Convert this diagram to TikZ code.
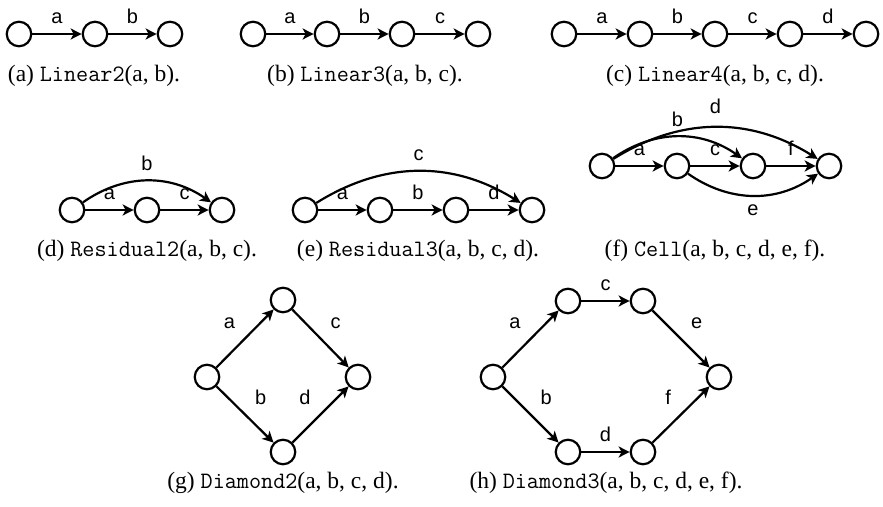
\documentclass[tikz,border=0pt]{standalone}
\usepackage{fontspec}
\setmainfont{Liberation Serif}
\newfontfamily\edgefont{Liberation Sans}
\usetikzlibrary{arrows.meta}

\begin{document}
\begin{tikzpicture}[x=1pt,y=1pt,
  vtx/.style={draw,circle,line width=2.2pt,minimum size=24.5pt,inner sep=0pt},
  arr/.style={line width=2.2pt,-{Stealth[length=11pt,width=11pt,inset=3pt]}},
  lbl/.style={font=\edgefont\fontsize{20}{20}\selectfont,inner sep=0pt},
  captext/.style={font=\fontsize{23.5}{26}\selectfont,anchor=base,inner sep=0pt}]

\useasboundingbox (0,0) rectangle (883,506);

\node[vtx] (a1) at (19,472) {};
\node[vtx] (a2) at (95,472) {};
\node[vtx] (a3) at (170,472) {};
\draw[arr] (a1) -- (a2) node[lbl,above=9pt,midway] {a};
\draw[arr] (a2) -- (a3) node[lbl,above=9pt,midway] {b};
\node[captext] (capa) at (94,424) {(a) \texttt{Linear2}(a, b).};

\node[vtx] (b1) at (253,472) {};
\node[vtx] (b2) at (327,472) {};
\node[vtx] (b3) at (402,472) {};
\node[vtx] (b4) at (478,472) {};
\draw[arr] (b1) -- (b2) node[lbl,above=9pt,midway] {a};
\draw[arr] (b2) -- (b3) node[lbl,above=9pt,midway] {b};
\draw[arr] (b3) -- (b4) node[lbl,above=9pt,midway] {c};
\node[captext] (capb) at (365,424) {(b) \texttt{Linear3}(a, b, c).};

\node[vtx] (c1) at (564,472) {};
\node[vtx] (c2) at (640,472) {};
\node[vtx] (c3) at (715,472) {};
\node[vtx] (c4) at (790,472) {};
\node[vtx] (c5) at (866,472) {};
\draw[arr] (c1) -- (c2) node[lbl,above=9pt,midway] {a};
\draw[arr] (c2) -- (c3) node[lbl,above=9pt,midway] {b};
\draw[arr] (c3) -- (c4) node[lbl,above=9pt,midway] {c};
\draw[arr] (c4) -- (c5) node[lbl,above=9pt,midway] {d};
\node[captext] (capc) at (715,424) {(c) \texttt{Linear4}(a, b, c, d).};

\node[vtx] (d1) at (72,296) {};
\node[vtx] (d2) at (147,296) {};
\node[vtx] (d3) at (222,296) {};
\draw[arr] (d1) -- (d2) node[lbl,above=9pt,midway] {a};
\draw[arr] (d1) to[bend left=35] node[lbl,above=9pt,midway] {b} (d3);
\draw[arr] (d2) -- (d3) node[lbl,above=9pt,midway] {c};
\node[captext] (capd) at (147,249) {(d) \texttt{Residual2}(a, b, c).};

\node[vtx] (e1) at (305,296) {};
\node[vtx] (e2) at (380,296) {};
\node[vtx] (e3) at (456,296) {};
\node[vtx] (e4) at (532,296) {};
\draw[arr] (e1) -- (e2) node[lbl,above=9pt,midway] {a};
\draw[arr] (e2) -- (e3) node[lbl,above=9pt,midway] {b};
\draw[arr] (e1) to[bend left=32] node[lbl,above=9pt,midway] {c} (e4);
\draw[arr] (e3) -- (e4) node[lbl,above=9pt,midway] {d};
\node[captext] (cape) at (418,249) {(e) \texttt{Residual3}(a, b, c, d).};

\node[vtx] (f1) at (602,340) {};
\node[vtx] (f2) at (677,340) {};
\node[vtx] (f3) at (753,340) {};
\node[vtx] (f4) at (829,340) {};
\draw[arr] (f1) -- (f2) node[lbl,above=9pt,midway] {a};
\draw[arr] (f1) to[bend left=35] node[lbl,above=9pt,midway] {b} (f3);
\draw[arr] (f2) -- (f3) node[lbl,above=9pt,midway] {c};
\draw[arr] (f1) to[bend left=32] node[lbl,above=12pt,midway] {d} (f4);
\draw[arr] (f2) to[bend right=35] node[lbl,below=8pt,midway] {e} (f4);
\draw[arr] (f3) -- (f4) node[lbl,above=9pt,midway] {f};
\node[captext] (capf) at (715,249) {(f) \texttt{Cell}(a, b, c, d, e, f).};

\node[vtx] (g1) at (207,129) {};
\node[vtx] (g2) at (283,206) {};
\node[vtx] (g3) at (358,129) {};
\node[vtx] (g4) at (283,54) {};
\draw[arr] (g1) -- (g2) node[lbl,above left=9pt,midway] {a};
\draw[arr] (g1) -- (g4) node[lbl,above right=9pt,midway] {b};
\draw[arr] (g2) -- (g3) node[lbl,above right=9pt,midway] {c};
\draw[arr] (g4) -- (g3) node[lbl,above left=9pt,midway] {d};
\node[captext] (capg) at (283,18) {(g) \texttt{Diamond2}(a, b, c, d).};

\node[vtx] (h1) at (493,129) {};
\node[vtx] (h2) at (568,205) {};
\node[vtx] (h3) at (643,205) {};
\node[vtx] (h4) at (719,129) {};
\node[vtx] (h5) at (568,54) {};
\node[vtx] (h6) at (643,54) {};
\draw[arr] (h1) -- (h2) node[lbl,above left=9pt,midway] {a};
\draw[arr] (h1) -- (h5) node[lbl,above right=9pt,midway] {b};
\draw[arr] (h2) -- (h3) node[lbl,above=9pt,midway] {c};
\draw[arr] (h5) -- (h6) node[lbl,above=9pt,midway] {d};
\draw[arr] (h3) -- (h4) node[lbl,above right=9pt,midway] {e};
\draw[arr] (h6) -- (h4) node[lbl,above left=9pt,midway] {f};
\node[captext] (caph) at (606,18) {(h) \texttt{Diamond3}(a, b, c, d, e, f).};

\end{tikzpicture}
\end{document}
